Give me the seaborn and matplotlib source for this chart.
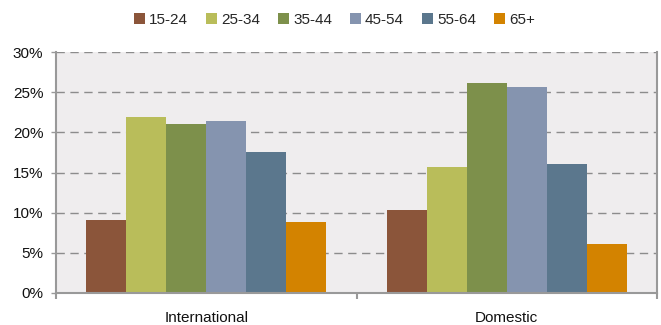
import matplotlib
matplotlib.use("Agg")
import matplotlib.pyplot as plt
import seaborn as sns
import pandas as pd
from matplotlib.ticker import FixedLocator, PercentFormatter

categories = ["International", "Domestic"]
age_groups = ["15-24", "25-34", "35-44", "45-54", "55-64", "65+"]
international = [9.1, 21.9, 21.0, 21.4, 17.6, 8.9]
domestic = [10.3, 15.7, 26.1, 25.6, 16.1, 6.1]
colors = ["#8B553A", "#B9BD5A", "#7D904B", "#8594AF", "#5B778D", "#D38300"]
yticks = [0, 5, 10, 15, 20, 25, 30]

rows = []
for cat, vals in zip(categories, [international, domestic]):
    for g, v in zip(age_groups, vals):
        rows.append({"category": cat, "age": g, "value": v})
df = pd.DataFrame(rows)

sns.set_theme(style="white")
plt.rcParams["font.family"] = ["Liberation Sans", "DejaVu Sans"]
plt.rcParams["font.size"] = 11

fig = plt.figure(figsize=(6.61, 3.25), dpi=100)
ax = fig.add_axes([56 / 661, 1 - 293 / 325, 601 / 661, 241 / 325])
ax.set_facecolor("#EFEDEE")

sns.barplot(data=df, x="category", y="value", hue="age", order=categories,
            hue_order=age_groups, palette=colors, width=0.8, gap=0,
            saturation=1, linewidth=0, ax=ax, legend=True)

ax.set_xlim(-0.5, 1.5)
ax.set_ylim(0, 30)
ax.set_yticks(yticks)
ax.yaxis.set_major_formatter(PercentFormatter(decimals=0))
ax.set_xlabel("")
ax.set_ylabel("")

ax.set_axisbelow(True)
ax.yaxis.grid(True, color="#8c8c8c", linestyle=(0, (6, 4)), linewidth=1)
ax.xaxis.grid(False)

for side in ["left", "bottom", "right"]:
    ax.spines[side].set_visible(True)
    ax.spines[side].set_color("#999999")
    ax.spines[side].set_linewidth(1.5)
ax.spines["top"].set_visible(False)

ax.tick_params(axis="y", which="major", left=True, length=3.6, width=1,
               color="#999999", pad=5.5, labelsize=11, labelcolor="#111111")
ax.tick_params(axis="x", which="major", bottom=True, length=0, pad=13,
               labelsize=11, labelcolor="#111111")
ax.xaxis.set_minor_locator(FixedLocator([-0.5, 0.5, 1.5]))
ax.tick_params(axis="x", which="minor", bottom=True, length=4, width=1.5,
               color="#999999", direction="out")

handles, labels = ax.get_legend_handles_labels()
ax.get_legend().remove()
fig.legend(handles, labels, loc="center",
           bbox_to_anchor=(334.5 / 661, 1 - 19.5 / 325), ncol=6,
           frameon=False, handlelength=0.72, handleheight=0.72,
           handletextpad=0.26, columnspacing=1.18, fontsize=11,
           borderpad=0, borderaxespad=0)

fig.savefig("out.png", dpi=100)
